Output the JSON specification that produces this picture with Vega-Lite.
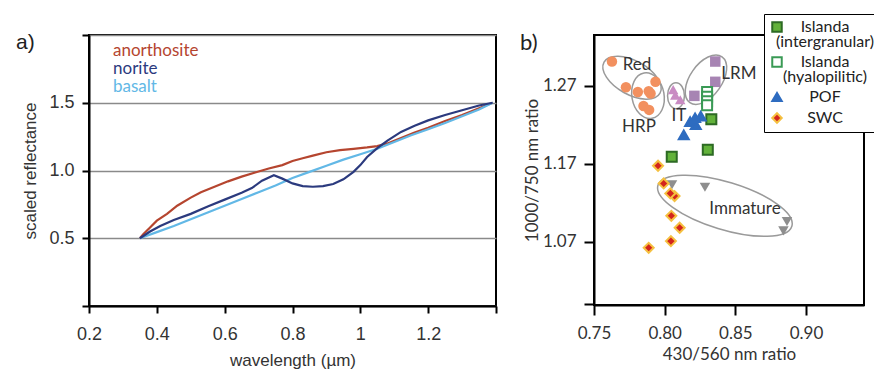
{
  "$schema": "https://vega.github.io/schema/vega-lite/v6.json",
  "background": "white",
  "padding": {"left": 15, "top": 12, "right": 0, "bottom": 0},
  "autosize": {"type": "pad"},
  "bounds": "flush",
  "spacing": 98,
  "config": {
    "view": {"stroke": "black", "strokeWidth": 2},
    "axis": {"domainColor": "black", "domainWidth": 2, "tickColor": "black", "tickWidth": 2, "labelColor": "#333333", "titleColor": "#333333", "titleFontWeight": "normal", "labelFlush": false, "labelOverlap": false, "grid": false}
  },
  "datasets": {
    "spectra": [
      {"series": "anorthosite", "wl": 0.35, "r": 0.50},
      {"series": "anorthosite", "wl": 0.36, "r": 0.53},
      {"series": "anorthosite", "wl": 0.38, "r": 0.58},
      {"series": "anorthosite", "wl": 0.40, "r": 0.63},
      {"series": "anorthosite", "wl": 0.43, "r": 0.68},
      {"series": "anorthosite", "wl": 0.46, "r": 0.74},
      {"series": "anorthosite", "wl": 0.50, "r": 0.80},
      {"series": "anorthosite", "wl": 0.53, "r": 0.84},
      {"series": "anorthosite", "wl": 0.57, "r": 0.88},
      {"series": "anorthosite", "wl": 0.61, "r": 0.92},
      {"series": "anorthosite", "wl": 0.65, "r": 0.955},
      {"series": "anorthosite", "wl": 0.69, "r": 0.985},
      {"series": "anorthosite", "wl": 0.73, "r": 1.015},
      {"series": "anorthosite", "wl": 0.77, "r": 1.04},
      {"series": "anorthosite", "wl": 0.80, "r": 1.07},
      {"series": "anorthosite", "wl": 0.83, "r": 1.09},
      {"series": "anorthosite", "wl": 0.86, "r": 1.11},
      {"series": "anorthosite", "wl": 0.90, "r": 1.135},
      {"series": "anorthosite", "wl": 0.94, "r": 1.15},
      {"series": "anorthosite", "wl": 0.98, "r": 1.16},
      {"series": "anorthosite", "wl": 1.02, "r": 1.17},
      {"series": "anorthosite", "wl": 1.05, "r": 1.18},
      {"series": "anorthosite", "wl": 1.08, "r": 1.20},
      {"series": "anorthosite", "wl": 1.12, "r": 1.24},
      {"series": "anorthosite", "wl": 1.16, "r": 1.28},
      {"series": "anorthosite", "wl": 1.20, "r": 1.315},
      {"series": "anorthosite", "wl": 1.25, "r": 1.365},
      {"series": "anorthosite", "wl": 1.30, "r": 1.41},
      {"series": "anorthosite", "wl": 1.35, "r": 1.46},
      {"series": "anorthosite", "wl": 1.39, "r": 1.50},
      {"series": "basalt", "wl": 0.35, "r": 0.50},
      {"series": "basalt", "wl": 0.40, "r": 0.545},
      {"series": "basalt", "wl": 0.45, "r": 0.59},
      {"series": "basalt", "wl": 0.50, "r": 0.64},
      {"series": "basalt", "wl": 0.55, "r": 0.69},
      {"series": "basalt", "wl": 0.60, "r": 0.74},
      {"series": "basalt", "wl": 0.65, "r": 0.79},
      {"series": "basalt", "wl": 0.70, "r": 0.84},
      {"series": "basalt", "wl": 0.75, "r": 0.89},
      {"series": "basalt", "wl": 0.80, "r": 0.945},
      {"series": "basalt", "wl": 0.85, "r": 0.99},
      {"series": "basalt", "wl": 0.90, "r": 1.035},
      {"series": "basalt", "wl": 0.95, "r": 1.08},
      {"series": "basalt", "wl": 1.00, "r": 1.12},
      {"series": "basalt", "wl": 1.05, "r": 1.16},
      {"series": "basalt", "wl": 1.10, "r": 1.21},
      {"series": "basalt", "wl": 1.15, "r": 1.26},
      {"series": "basalt", "wl": 1.20, "r": 1.305},
      {"series": "basalt", "wl": 1.25, "r": 1.35},
      {"series": "basalt", "wl": 1.30, "r": 1.40},
      {"series": "basalt", "wl": 1.35, "r": 1.45},
      {"series": "basalt", "wl": 1.39, "r": 1.50},
      {"series": "norite", "wl": 0.35, "r": 0.50},
      {"series": "norite", "wl": 0.38, "r": 0.55},
      {"series": "norite", "wl": 0.41, "r": 0.59},
      {"series": "norite", "wl": 0.45, "r": 0.635},
      {"series": "norite", "wl": 0.50, "r": 0.68},
      {"series": "norite", "wl": 0.55, "r": 0.735},
      {"series": "norite", "wl": 0.60, "r": 0.785},
      {"series": "norite", "wl": 0.65, "r": 0.835},
      {"series": "norite", "wl": 0.68, "r": 0.87},
      {"series": "norite", "wl": 0.71, "r": 0.925},
      {"series": "norite", "wl": 0.745, "r": 0.965},
      {"series": "norite", "wl": 0.77, "r": 0.94},
      {"series": "norite", "wl": 0.80, "r": 0.905},
      {"series": "norite", "wl": 0.83, "r": 0.885},
      {"series": "norite", "wl": 0.86, "r": 0.88},
      {"series": "norite", "wl": 0.89, "r": 0.885},
      {"series": "norite", "wl": 0.92, "r": 0.90},
      {"series": "norite", "wl": 0.95, "r": 0.935},
      {"series": "norite", "wl": 0.98, "r": 0.99},
      {"series": "norite", "wl": 1.00, "r": 1.04},
      {"series": "norite", "wl": 1.02, "r": 1.10},
      {"series": "norite", "wl": 1.05, "r": 1.165},
      {"series": "norite", "wl": 1.08, "r": 1.22},
      {"series": "norite", "wl": 1.12, "r": 1.285},
      {"series": "norite", "wl": 1.16, "r": 1.33},
      {"series": "norite", "wl": 1.20, "r": 1.37},
      {"series": "norite", "wl": 1.25, "r": 1.41},
      {"series": "norite", "wl": 1.30, "r": 1.445},
      {"series": "norite", "wl": 1.35, "r": 1.48},
      {"series": "norite", "wl": 1.39, "r": 1.50}
    ],
    "points": [
      {"group": "Red", "x": 0.7627, "y": 1.301},
      {"group": "Red", "x": 0.7726, "y": 1.268},
      {"group": "Red", "x": 0.781, "y": 1.262},
      {"group": "HRP", "x": 0.790, "y": 1.260},
      {"group": "HRP", "x": 0.7935, "y": 1.275},
      {"group": "HRP", "x": 0.7887, "y": 1.263},
      {"group": "HRP", "x": 0.785, "y": 1.244},
      {"group": "HRP", "x": 0.789, "y": 1.239},
      {"group": "IT", "x": 0.806, "y": 1.265},
      {"group": "IT", "x": 0.8075, "y": 1.258},
      {"group": "IT", "x": 0.811, "y": 1.252},
      {"group": "LRM", "x": 0.8358, "y": 1.301},
      {"group": "LRM", "x": 0.8358, "y": 1.275},
      {"group": "LRM", "x": 0.821, "y": 1.257},
      {"group": "Immature", "x": 0.8052, "y": 1.143},
      {"group": "Immature", "x": 0.8285, "y": 1.140},
      {"group": "Immature", "x": 0.8865, "y": 1.096},
      {"group": "Immature", "x": 0.884, "y": 1.084},
      {"group": "Islanda (hyalopilitic)", "x": 0.830, "y": 1.262},
      {"group": "Islanda (hyalopilitic)", "x": 0.830, "y": 1.256},
      {"group": "Islanda (hyalopilitic)", "x": 0.830, "y": 1.250},
      {"group": "Islanda (hyalopilitic)", "x": 0.830, "y": 1.245},
      {"group": "Islanda (intergranular)", "x": 0.833, "y": 1.227},
      {"group": "Islanda (intergranular)", "x": 0.8305, "y": 1.188},
      {"group": "Islanda (intergranular)", "x": 0.805, "y": 1.179},
      {"group": "POF", "x": 0.8135, "y": 1.207},
      {"group": "POF", "x": 0.818, "y": 1.224},
      {"group": "POF", "x": 0.822, "y": 1.220},
      {"group": "POF", "x": 0.8255, "y": 1.231},
      {"group": "POF", "x": 0.8215, "y": 1.229},
      {"group": "SWC", "x": 0.7953, "y": 1.1674},
      {"group": "SWC", "x": 0.7993, "y": 1.1448},
      {"group": "SWC", "x": 0.807, "y": 1.1286},
      {"group": "SWC", "x": 0.804, "y": 1.132},
      {"group": "SWC", "x": 0.8047, "y": 1.1033},
      {"group": "SWC", "x": 0.8106, "y": 1.088},
      {"group": "SWC", "x": 0.8044, "y": 1.0709},
      {"group": "SWC", "x": 0.7887, "y": 1.0623}
    ],
    "ellipses": [
      {"name": "Red", "x": 0.7769, "y": 1.2803},
      {"name": "HRP", "x": 0.7882, "y": 1.2572},
      {"name": "IT", "x": 0.808, "y": 1.2572},
      {"name": "LRM", "x": 0.8292, "y": 1.2777},
      {"name": "Immature", "x": 0.8426, "y": 1.1162}
    ],
    "labels": [
      {"text": "Red", "x": 0.7804, "y": 1.2969},
      {"text": "HRP", "x": 0.7818, "y": 1.2174},
      {"text": "IT", "x": 0.8101, "y": 1.2315},
      {"text": "LRM", "x": 0.8525, "y": 1.2854},
      {"text": "Immature", "x": 0.8568, "y": 1.1123}
    ],
    "tags": [
      {"tag": "a)", "wl": -0.015, "r": 1.94},
      {"tag": "b)", "x": 0.6977, "y": 1.3245}
    ]
  },
  "hconcat": [
    {
      "width": 407,
      "height": 271,
      "encoding": {
        "x": {"field": "wl", "type": "quantitative", "scale": {"domain": [0.2, 1.4], "nice": false, "zero": false},
          "axis": {"title": "wavelength (µm)", "values": [0.2, 0.4, 0.6, 0.8, 1, 1.2, 1.4], "labelExpr": "datum.value > 1.3 ? '' : format(datum.value, '~g')", "tickSize": 7, "labelPadding": 12, "titlePadding": 9, "labelFont": "Liberation Sans", "labelFontSize": 18, "titleFont": "Liberation Sans", "titleFontSize": 17}},
        "y": {"field": "r", "type": "quantitative", "scale": {"domain": [0, 2], "nice": false, "zero": false},
          "axis": {"title": "scaled reflectance", "values": [0, 0.5, 1, 1.5, 2], "labelExpr": "(datum.value == 0 || datum.value == 2) ? '' : format(datum.value, '.1f')", "grid": true, "gridColor": "#8a8a8a", "gridWidth": 1.5, "tickSize": 7, "labelPadding": 8, "titlePadding": 9, "labelFont": "Liberation Sans", "labelFontSize": 18, "titleFont": "Liberation Sans", "titleFontSize": 17}}
      },
      "layer": [
        {
          "data": {"name": "spectra"},
          "mark": {"type": "line", "strokeWidth": 2.2},
          "encoding": {
            "color": {"field": "series", "type": "nominal",
              "scale": {"domain": ["anorthosite", "norite", "basalt"], "range": ["#b5452f", "#2b3a7e", "#62b8e6"]},
              "legend": {"title": null, "orient": "none", "legendX": 7, "legendY": 7, "symbolSize": 0, "symbolStrokeWidth": 0, "symbolOpacity": 0, "labelOffset": 0, "padding": 0, "rowPadding": 0, "labelFont": "Lato", "labelFontSize": 17,
                "encoding": {"labels": {"fill": {"value": {"expr": "datum.value == 'anorthosite' ? '#b5452f' : (datum.value == 'norite' ? '#2b3a7e' : '#62b8e6')"}}}}}}
          }
        },
        {
          "data": {"name": "tags"},
          "transform": [{"filter": "datum.tag == 'a)'"}],
          "mark": {"type": "text", "align": "left", "baseline": "middle", "font": "Liberation Sans", "fontSize": 21, "color": "#222222"},
          "encoding": {"text": {"field": "tag", "type": "nominal"}}
        }
      ]
    },
    {
      "width": 270,
      "height": 270,
      "encoding": {
        "x": {"field": "x", "type": "quantitative", "scale": {"domain": [0.75, 0.941], "nice": false, "zero": false},
          "axis": {"title": "430/560 nm ratio", "values": [0.75, 0.8, 0.85, 0.9], "format": ".2f", "tickSize": 10, "labelPadding": 10, "titlePadding": 5, "labelFont": "Lato", "labelFontSize": 17, "titleFont": "Lato", "titleFontSize": 17}},
        "y": {"field": "y", "type": "quantitative", "scale": {"domain": [0.989, 1.335], "nice": false, "zero": false},
          "axis": {"title": "1000/750 nm ratio", "values": [0.99, 1.07, 1.17, 1.27], "labelExpr": "datum.value < 1 ? '' : format(datum.value, '.2f')", "tickSize": 10, "labelPadding": 8, "titlePadding": 1, "labelFont": "Lato", "labelFontSize": 17, "titleFont": "Lato", "titleFontSize": 17}}
      },
      "layer": [
        {"data": {"name": "ellipses"}, "transform": [{"filter": "datum.name == 'Red'"}],
          "mark": {"type": "point", "filled": false, "shape": "M-1,0A1,0.53,0,1,1,1,0A1,0.53,0,1,1,-1,0Z", "size": 4096, "angle": 29, "stroke": "#9a9a9a", "strokeWidth": 1.5, "opacity": 1}},
        {"data": {"name": "ellipses"}, "transform": [{"filter": "datum.name == 'HRP'"}],
          "mark": {"type": "point", "filled": false, "shape": "M-1,0A1,0.7,0,1,1,1,0A1,0.7,0,1,1,-1,0Z", "size": 2116, "angle": 80, "stroke": "#9a9a9a", "strokeWidth": 1.5, "opacity": 1}},
        {"data": {"name": "ellipses"}, "transform": [{"filter": "datum.name == 'IT'"}],
          "mark": {"type": "point", "filled": false, "shape": "M-1,0A1,0.65,0,1,1,1,0A1,0.65,0,1,1,-1,0Z", "size": 676, "angle": 90, "stroke": "#9a9a9a", "strokeWidth": 1.5, "opacity": 1}},
        {"data": {"name": "ellipses"}, "transform": [{"filter": "datum.name == 'LRM'"}],
          "mark": {"type": "point", "filled": false, "shape": "M-1,0A1,0.57,0,1,1,1,0A1,0.57,0,1,1,-1,0Z", "size": 3136, "angle": -55, "stroke": "#9a9a9a", "strokeWidth": 1.5, "opacity": 1}},
        {"data": {"name": "ellipses"}, "transform": [{"filter": "datum.name == 'Immature'"}],
          "mark": {"type": "point", "filled": false, "shape": "M-1,0A1,0.34,0,1,1,1,0A1,0.34,0,1,1,-1,0Z", "size": 19600, "angle": 17, "stroke": "#9a9a9a", "strokeWidth": 1.5, "opacity": 1}},
        {"data": {"name": "points"}, "transform": [{"filter": {"field": "group", "oneOf": ["Red", "HRP", "IT", "LRM", "Immature"]}}],
          "mark": {"type": "point", "filled": true, "size": 110, "opacity": 1},
          "encoding": {
            "fill": {"field": "group", "type": "nominal", "scale": {"domain": ["Red", "HRP", "IT", "LRM", "Immature"], "range": ["#f2905f", "#f2905f", "#c98bc3", "#a784b3", "#8e8e8e"]}, "legend": null},
            "shape": {"field": "group", "type": "nominal", "scale": {"domain": ["Red", "HRP", "IT", "LRM", "Immature"], "range": ["circle", "circle", "triangle-up", "square", "triangle-down"]}, "legend": null}
          }},
        {"data": {"name": "points"}, "transform": [{"filter": {"field": "group", "oneOf": ["Islanda (intergranular)", "Islanda (hyalopilitic)", "POF", "SWC"]}}],
          "mark": {"type": "point", "filled": true, "size": 100, "strokeWidth": 2, "opacity": 1},
          "encoding": {
            "fill": {"field": "group", "type": "nominal", "scale": {"domain": ["Islanda (intergranular)", "Islanda (hyalopilitic)", "POF", "SWC"], "range": ["#62b23a", "#ffffff", "#2e6cc0", "#d3251c"]},
              "legend": {"title": null, "orient": "none", "legendX": 170, "legendY": -21, "fillColor": "white", "strokeColor": "black", "padding": 5, "labelFont": "Lato", "labelFontSize": 16, "labelColor": "#222222", "labelAlign": "center", "labelOffset": 40, "symbolSize": 90, "symbolStrokeWidth": 2, "rowPadding": 3, "labelLimit": 300, "labelExpr": "datum.label == 'Islanda (intergranular)' ? ['Islanda', '(intergranular)'] : (datum.label == 'Islanda (hyalopilitic)' ? ['Islanda', '(hyalopilitic)'] : datum.label)", "encoding": {"labels": {"lineHeight": {"value": 15}}}}},
            "stroke": {"field": "group", "type": "nominal", "scale": {"domain": ["Islanda (intergranular)", "Islanda (hyalopilitic)", "POF", "SWC"], "range": ["#2d6a24", "#3a9a55", "#2e6cc0", "#f5c040"]},
              "legend": {"title": null, "orient": "none", "legendX": 170, "legendY": -21, "fillColor": "white", "strokeColor": "black", "padding": 5, "labelFont": "Lato", "labelFontSize": 16, "labelColor": "#222222", "labelAlign": "center", "labelOffset": 40, "symbolSize": 90, "symbolStrokeWidth": 2, "rowPadding": 3, "labelLimit": 300, "labelExpr": "datum.label == 'Islanda (intergranular)' ? ['Islanda', '(intergranular)'] : (datum.label == 'Islanda (hyalopilitic)' ? ['Islanda', '(hyalopilitic)'] : datum.label)", "encoding": {"labels": {"lineHeight": {"value": 15}}}}},
            "shape": {"field": "group", "type": "nominal", "scale": {"domain": ["Islanda (intergranular)", "Islanda (hyalopilitic)", "POF", "SWC"], "range": ["square", "square", "triangle-up", "diamond"]},
              "legend": {"title": null, "orient": "none", "legendX": 170, "legendY": -21, "fillColor": "white", "strokeColor": "black", "padding": 5, "labelFont": "Lato", "labelFontSize": 16, "labelColor": "#222222", "labelAlign": "center", "labelOffset": 40, "symbolSize": 90, "symbolStrokeWidth": 2, "rowPadding": 3, "labelLimit": 300, "labelExpr": "datum.label == 'Islanda (intergranular)' ? ['Islanda', '(intergranular)'] : (datum.label == 'Islanda (hyalopilitic)' ? ['Islanda', '(hyalopilitic)'] : datum.label)", "encoding": {"labels": {"lineHeight": {"value": 15}}}}}
          }},
        {"data": {"name": "labels"},
          "mark": {"type": "text", "font": "Lato", "fontSize": 17, "color": "#333333"},
          "encoding": {"text": {"field": "text", "type": "nominal"}}},
        {"data": {"name": "tags"},
          "transform": [{"filter": "datum.tag == 'b)'"}],
          "mark": {"type": "text", "align": "left", "baseline": "middle", "font": "Lato", "fontSize": 22, "color": "#222222"},
          "encoding": {"text": {"field": "tag", "type": "nominal"}}}
      ],
      "resolve": {"scale": {"fill": "independent", "shape": "independent", "stroke": "independent"}}
    }
  ]
}
